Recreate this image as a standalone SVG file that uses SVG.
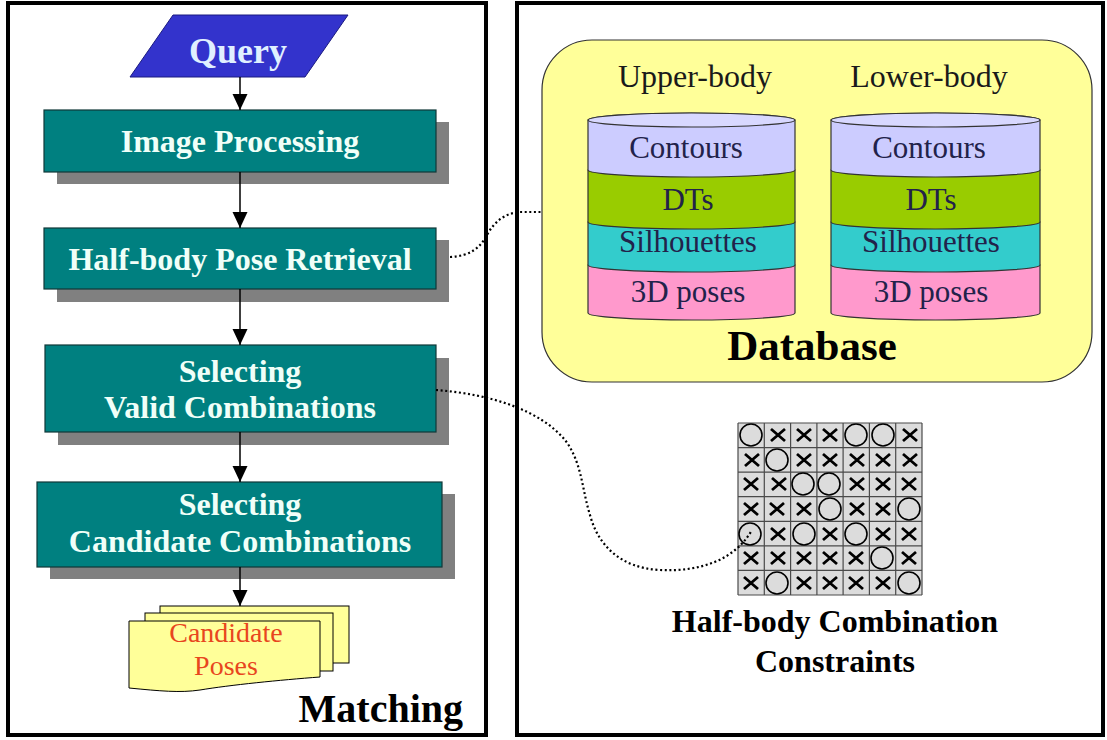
<svg xmlns="http://www.w3.org/2000/svg" xmlns:xlink="http://www.w3.org/1999/xlink" width="1107" height="740" viewBox="0 0 1107 740">
  <style>
    text { font-family: "Liberation Serif", "Times New Roman", serif; }
    .frame { fill: #ffffff; stroke: #000000; stroke-width: 4; }
    .step { fill: #008080; stroke: #103838; stroke-width: 1.2; }
    .shadow { fill: #808080; }
    .stepText { fill: #f0fff8; font-weight: bold; font-size: 32px; text-anchor: middle; }
    .flow { stroke: #000000; stroke-width: 1.5; fill: none; marker-end: url(#arrow); }
    .link { stroke: #000000; stroke-width: 2.2; fill: none; stroke-dasharray: 2 2.6; }
    .doc { fill: #ffff99; stroke: #000000; stroke-width: 1; }
    .layerText { fill: #22224a; font-size: 31px; text-anchor: middle; }
    .head { fill: #1a1a1a; font-size: 32px; text-anchor: middle; }
    .grid { stroke: #4a4a4a; stroke-width: 1.2; }
    .xmark { stroke: #000000; stroke-width: 2.8; fill: none; }
    .omark { stroke: #000000; stroke-width: 1.6; fill: none; }
  </style>
  <defs>
    <marker id="arrow" viewBox="0 0 16 16" refX="16" refY="8" markerWidth="16" markerHeight="16" markerUnits="userSpaceOnUse" orient="auto">
      <path d="M0,0.5 L16,8 L0,15.5 Z" fill="#000000"/>
    </marker>
    <path id="X" class="xmark" d="M-7,-6 L7,6 M-7,6 L7,-6"/>
    <circle id="O" class="omark" r="11"/>
  </defs>

  <!-- panels -->
  <rect class="frame" x="8" y="3" width="478" height="732"/>
  <rect class="frame" x="517" y="3" width="586" height="732"/>

  <!-- Matching pipeline -->
  <g id="query">
    <polygon points="173,15 348,15 305,77 130,77" fill="#3333cc" stroke="#1a1a80" stroke-width="1"/>
    <text x="238" y="63" font-size="36" font-weight="bold" fill="#e0f0ff" text-anchor="middle">Query</text>
  </g>

  <g id="image-processing">
    <rect class="shadow" x="57" y="122" width="392" height="62"/>
    <rect class="step" x="44" y="110" width="392" height="62"/>
    <text class="stepText" x="240" y="152">Image Processing</text>
  </g>

  <g id="pose-retrieval">
    <rect class="shadow" x="57" y="240" width="392" height="62"/>
    <rect class="step" x="44" y="228" width="392" height="61"/>
    <text class="stepText" x="240" y="270">Half-body Pose Retrieval</text>
  </g>

  <g id="valid-combinations">
    <rect class="shadow" x="58" y="358" width="391" height="87"/>
    <rect class="step" x="45" y="345" width="391" height="87"/>
    <text class="stepText" x="240" y="382">Selecting</text>
    <text class="stepText" x="240" y="418">Valid Combinations</text>
  </g>

  <g id="candidate-combinations">
    <rect class="shadow" x="50" y="494" width="405" height="85"/>
    <rect class="step" x="37" y="482" width="405" height="85"/>
    <text class="stepText" x="240" y="515">Selecting</text>
    <text class="stepText" x="240" y="552">Candidate Combinations</text>
  </g>

  <g id="candidate-poses">
    <rect class="doc" x="160" y="606" width="189" height="57"/>
    <rect class="doc" x="145" y="613" width="188" height="58"/>
    <path class="doc" d="M129,621 L320,621 L320,677 C280,680 230,685 200,690 C180,693 160,691 129,688 Z"/>
    <text x="226" y="642" font-size="28" fill="#e8461e" text-anchor="middle">Candidate</text>
    <text x="226" y="675" font-size="28" fill="#e8461e" text-anchor="middle">Poses</text>
  </g>

  <text x="463" y="722" font-size="40" font-weight="bold" fill="#000000" text-anchor="end">Matching</text>

  <!-- Database -->
  <g id="database">
    <rect x="542" y="40" width="550" height="342" rx="50" ry="50" fill="#ffff99" stroke="#333333" stroke-width="1.2"/>
    <text class="head" x="695" y="87">Upper-body</text>
    <text class="head" x="929" y="87">Lower-body</text>
    <text x="812" y="360" font-size="43" font-weight="bold" fill="#000000" text-anchor="middle">Database</text>
  </g>

  <!-- upper-body store: layers drawn bottom first so each bottom rim overlaps the layer below -->
  <g id="upper-store" stroke="#333333" stroke-width="1.2">
    <path d="M588,265 L588,313 A103.5,7 0 0 0 795,313 L795,265 A103.5,7 0 0 0 588,265 Z" fill="#ff99cc"/>
    <path d="M588,222 L588,265 A103.5,7 0 0 0 795,265 L795,222 A103.5,7 0 0 0 588,222 Z" fill="#33cccc"/>
    <path d="M588,170 L588,222 A103.5,7 0 0 0 795,222 L795,170 A103.5,7 0 0 0 588,170 Z" fill="#99cc00"/>
    <path d="M588,120 L588,170 A103.5,7 0 0 0 795,170 L795,120 A103.5,7 0 0 0 588,120 Z" fill="#ccccff"/>
    <ellipse cx="691.5" cy="120" rx="103.5" ry="7" fill="#d8d8ff"/>
    <g stroke="none">
      <text class="layerText" x="686" y="158">Contours</text>
      <text class="layerText" x="688" y="210">DTs</text>
      <text class="layerText" x="688" y="252">Silhouettes</text>
      <text class="layerText" x="688" y="302">3D poses</text>
    </g>
  </g>

  <g id="lower-store" stroke="#333333" stroke-width="1.2">
    <path d="M831,265 L831,313 A104.5,7 0 0 0 1040,313 L1040,265 A104.5,7 0 0 0 831,265 Z" fill="#ff99cc"/>
    <path d="M831,222 L831,265 A104.5,7 0 0 0 1040,265 L1040,222 A104.5,7 0 0 0 831,222 Z" fill="#33cccc"/>
    <path d="M831,170 L831,222 A104.5,7 0 0 0 1040,222 L1040,170 A104.5,7 0 0 0 831,170 Z" fill="#99cc00"/>
    <path d="M831,120 L831,170 A104.5,7 0 0 0 1040,170 L1040,120 A104.5,7 0 0 0 831,120 Z" fill="#ccccff"/>
    <ellipse cx="935.5" cy="120" rx="104.5" ry="7" fill="#d8d8ff"/>
    <g stroke="none">
      <text class="layerText" x="929" y="158">Contours</text>
      <text class="layerText" x="931" y="210">DTs</text>
      <text class="layerText" x="931" y="252">Silhouettes</text>
      <text class="layerText" x="931" y="302">3D poses</text>
    </g>
  </g>

  <!-- combination constraint table (7 x 7) -->
  <g id="constraints">
    <rect x="738" y="423" width="184" height="172" fill="#dcdcdc"/>
    <g class="grid">
      <line x1="738" y1="423" x2="738" y2="595"/>
      <line x1="764.3" y1="423" x2="764.3" y2="595"/>
      <line x1="790.6" y1="423" x2="790.6" y2="595"/>
      <line x1="816.9" y1="423" x2="816.9" y2="595"/>
      <line x1="843.1" y1="423" x2="843.1" y2="595"/>
      <line x1="869.4" y1="423" x2="869.4" y2="595"/>
      <line x1="895.7" y1="423" x2="895.7" y2="595"/>
      <line x1="922" y1="423" x2="922" y2="595"/>
      <line x1="738" y1="423" x2="922" y2="423"/>
      <line x1="738" y1="447.6" x2="922" y2="447.6"/>
      <line x1="738" y1="472.1" x2="922" y2="472.1"/>
      <line x1="738" y1="496.7" x2="922" y2="496.7"/>
      <line x1="738" y1="521.3" x2="922" y2="521.3"/>
      <line x1="738" y1="545.9" x2="922" y2="545.9"/>
      <line x1="738" y1="570.4" x2="922" y2="570.4"/>
      <line x1="738" y1="595" x2="922" y2="595"/>
    </g>
    <!-- row 1: O X X X O O X -->
    <use xlink:href="#O" x="751" y="435"/>
    <use xlink:href="#X" x="778" y="435"/>
    <use xlink:href="#X" x="804" y="435"/>
    <use xlink:href="#X" x="830" y="435"/>
    <use xlink:href="#O" x="856" y="435"/>
    <use xlink:href="#O" x="883" y="435"/>
    <use xlink:href="#X" x="910" y="435"/>
    <!-- row 2: X O X X X X X -->
    <use xlink:href="#X" x="752" y="460"/>
    <use xlink:href="#O" x="777" y="460"/>
    <use xlink:href="#X" x="804" y="460"/>
    <use xlink:href="#X" x="830" y="460"/>
    <use xlink:href="#X" x="857" y="460"/>
    <use xlink:href="#X" x="883" y="460"/>
    <use xlink:href="#X" x="910" y="460"/>
    <!-- row 3: X X O O X X X -->
    <use xlink:href="#X" x="751" y="484"/>
    <use xlink:href="#X" x="779" y="484"/>
    <use xlink:href="#O" x="803" y="484"/>
    <use xlink:href="#O" x="829" y="484"/>
    <use xlink:href="#X" x="857" y="484"/>
    <use xlink:href="#X" x="883" y="484"/>
    <use xlink:href="#X" x="909" y="484"/>
    <!-- row 4: X X X O X X O -->
    <use xlink:href="#X" x="751" y="509"/>
    <use xlink:href="#X" x="777" y="509"/>
    <use xlink:href="#X" x="804" y="509"/>
    <use xlink:href="#O" x="830" y="509"/>
    <use xlink:href="#X" x="857" y="509"/>
    <use xlink:href="#X" x="883" y="509"/>
    <use xlink:href="#O" x="909" y="509"/>
    <!-- row 5: O X O X O X X -->
    <use xlink:href="#O" x="750" y="534"/>
    <use xlink:href="#X" x="778" y="534"/>
    <use xlink:href="#O" x="804" y="534"/>
    <use xlink:href="#X" x="830" y="534"/>
    <use xlink:href="#O" x="856" y="534"/>
    <use xlink:href="#X" x="883" y="534"/>
    <use xlink:href="#X" x="909" y="534"/>
    <!-- row 6: X X X X X O X -->
    <use xlink:href="#X" x="751" y="558"/>
    <use xlink:href="#X" x="778" y="558"/>
    <use xlink:href="#X" x="804" y="558"/>
    <use xlink:href="#X" x="830" y="558"/>
    <use xlink:href="#X" x="856" y="558"/>
    <use xlink:href="#O" x="882" y="558"/>
    <use xlink:href="#X" x="909" y="558"/>
    <!-- row 7: X O X X X X O -->
    <use xlink:href="#X" x="751" y="583"/>
    <use xlink:href="#O" x="777" y="583"/>
    <use xlink:href="#X" x="804" y="583"/>
    <use xlink:href="#X" x="830" y="583"/>
    <use xlink:href="#X" x="856" y="583"/>
    <use xlink:href="#X" x="883" y="583"/>
    <use xlink:href="#O" x="909" y="583"/>
    <text x="835" y="632" font-size="32" font-weight="bold" fill="#000000" text-anchor="middle">Half-body Combination</text>
    <text x="835" y="672" font-size="32" font-weight="bold" fill="#000000" text-anchor="middle">Constraints</text>
  </g>

  <!-- connectors -->
  <g id="connectors">
    <line class="flow" x1="240" y1="77" x2="240" y2="110"/>
    <line class="flow" x1="240" y1="172" x2="240" y2="228"/>
    <line class="flow" x1="240" y1="289" x2="240" y2="345"/>
    <line class="flow" x1="240" y1="432" x2="240" y2="482"/>
    <line class="flow" x1="240" y1="567" x2="240" y2="606"/>
    <path class="link" d="M450,257 C470,256 480,248 487,235 C494,222 505,213 520,212 L541,212"/>
    <path class="link" d="M436,390 C490,394 540,410 565,440 C582,462 582,490 590,515 C598,545 620,568 660,570 C700,572 735,560 752,530"/>
  </g>
</svg>
